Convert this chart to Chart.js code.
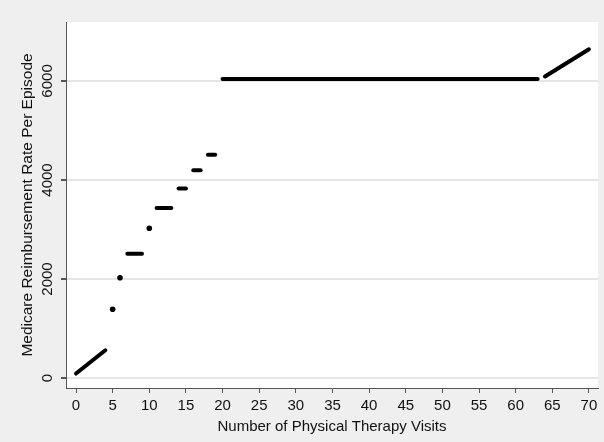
<!DOCTYPE html>
<html>
<head>
<meta charset="utf-8">
<script src="https://cdn.jsdelivr.net/npm/chart.js@4/dist/chart.umd.min.js"></script>
<style>
  html, body { margin: 0; padding: 0; background: #efefef; }
  #wrap { width: 604px; height: 442px; }
</style>
</head>
<body>
<div id="wrap"><canvas id="scatterChart" width="604" height="442"></canvas></div>
<script>
// horizontal / sloped runs of the rate schedule (start and end of each run)
const segStartX = [0, 7, 11, 14, 16, 18, 20, 64];
const segEndX   = [4, 9, 13, 15, 17, 19, 63, 70];
const segStartY = [90, 2510, 3435, 3830, 4195, 4510, 6040, 6090];
const segEndY   = [560, 2510, 3435, 3830, 4195, 4510, 6040, 6640];

// isolated visit counts
const dotX = [5, 6, 10];
const dotY = [1390, 2025, 3025];

const xTicks = [0, 5, 10, 15, 20, 25, 30, 35, 40, 45, 50, 55, 60, 65, 70];
const yTicks = [0, 2000, 4000, 6000];

const FONT = "'Liberation Sans', Arial, sans-serif";

const segDatasets = segStartX.map((x0, i) => ({
    data: [{ x: x0, y: segStartY[i] }, { x: segEndX[i], y: segEndY[i] }],
    showLine: true,
    borderColor: '#000',
    borderWidth: 4,
    borderCapStyle: 'round',
    pointRadius: 0
}));

const dotDataset = {
    data: dotX.map((x, i) => ({ x: x, y: dotY[i] })),
    showLine: false,
    pointRadius: 2.8,
    pointBackgroundColor: '#000',
    pointBorderWidth: 0
};

const backdrop = {
    id: 'backdrop',
    beforeDraw(chart) {
        const ctx = chart.ctx;
        const a = chart.chartArea;
        ctx.save();
        ctx.fillStyle = '#efefef';
        ctx.fillRect(0, 0, chart.width, chart.height);
        ctx.fillStyle = '#ffffff';
        ctx.fillRect(a.left, a.top, a.right - a.left, a.bottom - a.top);
        ctx.restore();
    },
    afterDraw(chart) {
        // y tick labels are rotated in the original
        const ctx = chart.ctx;
        const y = chart.scales.y;
        ctx.save();
        ctx.font = '15px ' + FONT;
        ctx.fillStyle = '#111';
        ctx.textAlign = 'center';
        ctx.textBaseline = 'middle';
        yTicks.forEach(v => {
            ctx.save();
            ctx.translate(48, y.getPixelForValue(v));
            ctx.rotate(-Math.PI / 2);
            ctx.fillText(String(v), 0, 0);
            ctx.restore();
        });
        ctx.restore();
    }
};

const ctx = document.getElementById('scatterChart').getContext('2d');
new Chart(ctx, {
    type: 'scatter',
    data: { datasets: segDatasets.concat([dotDataset]) },
    options: {
        responsive: false,
        animation: false,
        layout: { padding: { top: 22, right: 6, left: 0, bottom: 0 } },
        plugins: {
            legend: { display: false },
            tooltip: { enabled: false }
        },
        scales: {
            x: {
                type: 'linear',
                min: -1.37,
                max: 71.24,
                afterBuildTicks: scale => { scale.ticks = xTicks.map(v => ({ value: v })); },
                afterFit: scale => { scale.height = 54; },
                ticks: {
                    font: { family: FONT, size: 15 },
                    color: '#111',
                    padding: 4,
                    maxRotation: 0,
                    autoSkip: false
                },
                grid: {
                    drawOnChartArea: false,
                    drawTicks: true,
                    tickLength: 5,
                    tickColor: '#555'
                },
                border: { display: true, color: '#555', width: 1 },
                title: {
                    display: true,
                    text: 'Number of Physical Therapy Visits',
                    font: { family: FONT, size: 15 },
                    color: '#111',
                    padding: { top: 0, bottom: 6 }
                }
            },
            y: {
                type: 'linear',
                min: -202,
                max: 7191,
                afterBuildTicks: scale => { scale.ticks = yTicks.map(v => ({ value: v })); },
                afterFit: scale => { scale.width = 66; },
                ticks: { display: false },
                grid: {
                    color: '#e6e6e6',
                    lineWidth: 2,
                    drawTicks: true,
                    tickLength: 5,
                    tickColor: '#555'
                },
                border: { display: true, color: '#555', width: 1 },
                title: {
                    display: true,
                    text: 'Medicare Reimbursement Rate Per Episode',
                    font: { family: FONT, size: 15.5 },
                    color: '#111',
                    padding: { top: 18, bottom: 0 }
                }
            }
        }
    },
    plugins: [backdrop]
});
</script>
</body>
</html>
